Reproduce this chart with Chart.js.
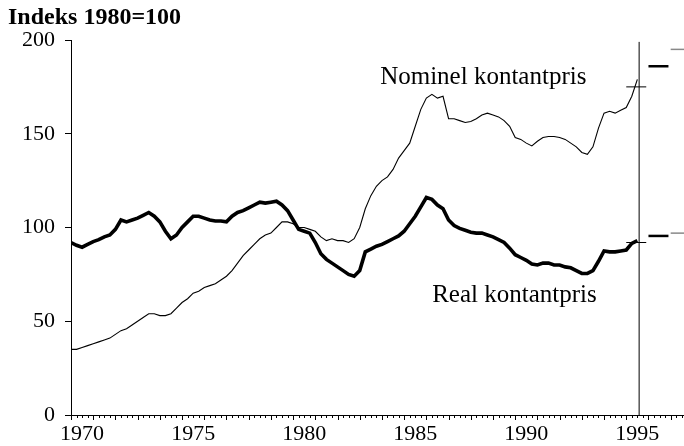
<!DOCTYPE html>
<html>
<head>
<meta charset="utf-8">
<script src="https://cdn.jsdelivr.net/npm/chart.js@4"></script>
<style>
  body { margin: 0; background: #fff; }
  #wrap { width: 684px; height: 446px; }
</style>
</head>
<body>
<div id="wrap"><canvas id="priceChart" width="684" height="446"></canvas></div>
<script>
// Quarterly observations, first quarter 1970 to third quarter 1995
const firstYear = 1970;
const nominalIndex = [
  35, 35, 36, 37,   38, 39, 40, 41,   43, 45, 46, 48,   50, 52, 54, 54,
  53, 53, 54, 57,   60, 62, 65, 66,   68, 69, 70, 72,   74, 77, 81, 85,
  88, 91, 94, 96,   97, 100, 103, 103,   102, 100, 100, 99,   98, 95, 93, 94,
  93, 93, 92, 94,   100, 110, 117, 122,   125, 127, 131, 137,   141, 145, 154, 163,
  169, 171, 169, 170,   158, 158, 157, 156,   156.5, 158, 160, 161,   160, 159, 157, 154,
  148, 147, 145, 143.5,   146, 148, 148.5, 148.5,   148, 147, 145, 143,   140, 139, 143, 153,
  161, 162, 161, 162.5,   164, 170, 179
];
const realIndex = [
  92, 90.5, 89.5, 91,   92.5, 93.5, 95, 96,   99, 104, 103, 104,   105, 106.5, 108, 106,
  103, 98, 94, 96,   100, 103, 106, 106,   105, 104, 103.5, 103.5,   103, 106, 108, 109,
  110.5, 112, 113.5, 113,   113.5, 114, 112, 109,   104, 99, 98, 97,   92, 86, 83, 81,
  79, 77, 75, 74,   77, 87, 88.5, 90,   91, 92.5, 94, 95.5,   98, 102, 106, 111,
  116, 115, 112, 110,   104, 101, 99.5, 98.5,   97.5, 97, 97, 96,   95, 93.5, 92, 89,
  85.5, 84, 82.5, 80.5,   80, 81, 81, 80,   80, 79, 78.5, 77,   75.5, 75.5, 77, 82,
  87.5, 87, 87, 87.5,   88, 91.5, 93
];
// annual levels marked at the right edge (1995 and the two years after)
const annualYears = [1995, 1996, 1997];
const annualNominal = [175, 186, 195];
const annualReal = [92, 95.5, 97];
const lastObservation = 1995.58;
const labelYears = [1970, 1975, 1980, 1985, 1990, 1995];

const quarters = nominalIndex.map((_, i) => firstYear + i / 4);
const serif = '"Liberation Serif", "DejaVu Serif", serif';

const toPoints = (values) => quarters.map((q, i) => ({ x: q, y: values[i] }));
const segment = (year, value) => [{ x: year, y: value }, { x: year + 0.9, y: value }];

const annualSets = [];
annualYears.forEach((yr, i) => {
  const col = i === 2 ? '#888' : '#000';
  const w = i === 0 ? 1 : (i === 1 ? 2.5 : 1.5);
  annualSets.push({ data: segment(yr, annualNominal[i]), borderColor: col, borderWidth: w });
  annualSets.push({ data: segment(yr, annualReal[i]), borderColor: col, borderWidth: w });
});

const decorations = {
  id: 'decorations',
  afterDraw(chart) {
    const { ctx, scales: { x, y } } = chart;
    ctx.save();
    // small tick marks under the time axis
    ctx.strokeStyle = '#000';
    ctx.lineWidth = 1;
    const base = y.getPixelForValue(0);
    for (let q = firstYear * 4; q <= 1997.5 * 4; q++) {
      const px = Math.round(x.getPixelForValue(q / 4)) + 0.5;
      const len = q % 4 === 0 ? 5 : 3;
      ctx.beginPath();
      ctx.moveTo(px, base);
      ctx.lineTo(px, base + len);
      ctx.stroke();
    }
    ctx.fillStyle = '#000';
    ctx.textBaseline = 'middle';
    ctx.textAlign = 'left';
    ctx.font = 'bold 24px ' + serif;
    ctx.fillText('Indeks 1980=100', 8, 18);
    ctx.font = '25px ' + serif;
    ctx.fillText('Nominel kontantpris', x.getPixelForValue(1983.92), y.getPixelForValue(179.8));
    ctx.fillText('Real kontantpris', x.getPixelForValue(1986.26), y.getPixelForValue(64));
    ctx.restore();
  }
};

new Chart(document.getElementById('priceChart'), {
  type: 'line',
  data: {
    datasets: [
      { data: toPoints(nominalIndex), borderColor: '#000', borderWidth: 1.1 },
      { data: toPoints(realIndex), borderColor: '#000', borderWidth: 3.6 },
      { data: [{ x: lastObservation, y: 0 }, { x: lastObservation, y: 199 }], borderColor: '#000', borderWidth: 1 },
      ...annualSets
    ]
  },
  options: {
    responsive: false,
    animation: false,
    layout: { padding: { top: 40, left: 0, right: 0, bottom: 0 } },
    elements: { point: { radius: 0 }, line: { tension: 0, fill: false } },
    plugins: { legend: { display: false }, tooltip: { enabled: false } },
    scales: {
      x: {
        type: 'linear',
        min: 1970,
        max: 1997.6,
        afterBuildTicks: (scale) => { scale.ticks = labelYears.map(v => ({ value: v + 0.5 })); },
        afterFit: (scale) => { scale.height = 31; },
        grid: { display: true, drawOnChartArea: false, drawTicks: false },
        border: { color: '#000', width: 1 },
        ticks: {
          autoSkip: false,
          maxRotation: 0,
          padding: 6,
          color: '#000',
          font: { family: serif, size: 22 },
          callback: (v) => String(Math.floor(v))
        }
      },
      y: {
        min: 0,
        max: 200,
        afterFit: (scale) => { scale.width = 71; },
        grid: { drawOnChartArea: false, drawTicks: true, tickLength: 6, tickColor: '#000' },
        border: { color: '#000', width: 1 },
        ticks: {
          stepSize: 50,
          padding: 10,
          color: '#000',
          font: { family: serif, size: 22 }
        }
      }
    }
  },
  plugins: [decorations]
});
</script>
</body>
</html>
